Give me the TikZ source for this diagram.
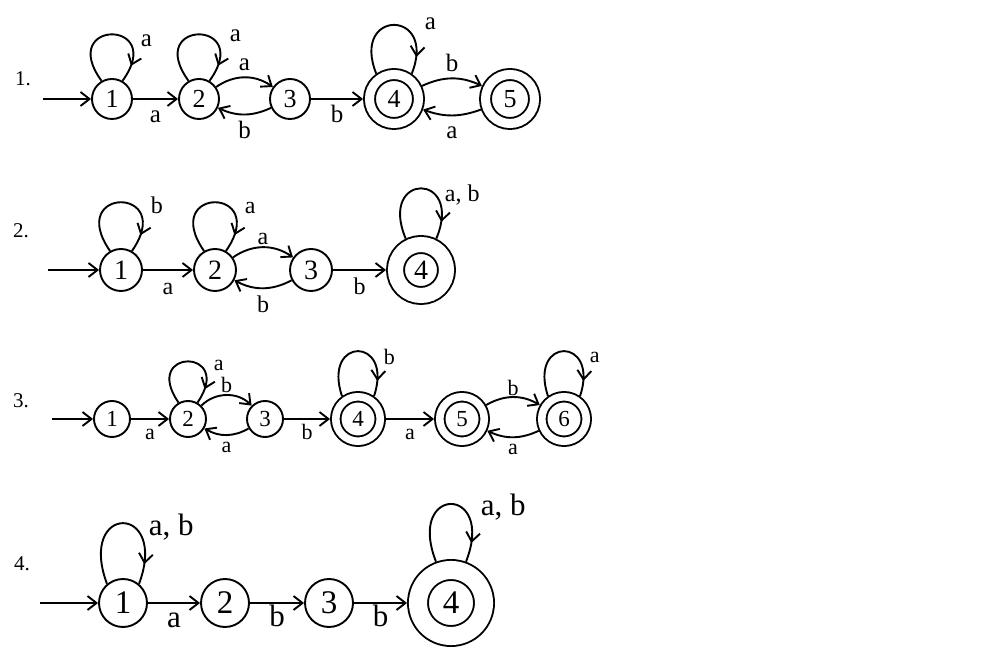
\documentclass[tikz,border=0pt]{standalone}
\usepackage{fontspec}
\setmainfont{Liberation Serif}
\usetikzlibrary{arrows.meta, decorations.markings}

\tikzset{
    qnode/.style={circle, draw, line width=1.9pt, inner sep=0pt},
    qfinal/.style={qnode, double},
    trans/.style={line width=1.9pt, -{Straight Barb[length=9pt,width=14pt]}},
    selfloop/.style={line width=1.9pt, postaction={decorate},
        decoration={markings, mark=at position 0.86 with {\arrow{Straight Barb[length=9pt,width=14pt]}}}},
    lab/.style={inner sep=1pt, text depth=0pt},
    rownum/.style={anchor=base west, inner sep=0pt, font=\fontsize{21}{21}\selectfont},
}

\begin{document}
\begin{tikzpicture}[x=1pt, y=1pt]
    \useasboundingbox (0,0) rectangle (1000,650);

    \begin{scope}[qnode/.append style={minimum size=40pt, font=\fontsize{26}{26}\selectfont},
                  qfinal/.append style={minimum size=49pt, double distance=9.1pt, outer sep=6.45pt},
                  lab/.append style={font=\fontsize{25}{25}\selectfont, text height=17.5pt}]
    \node[rownum] (n1) at (15,564) {1.};
    \coordinate (s1) at (43,551);
    \node[qnode] (A1) at (112,551) {1};
    \node[qnode] (A2) at (199,551) {2};
    \node[qnode] (A3) at (290,551) {3};
    \node[qfinal] (A4) at (394,551) {4};
    \node[qfinal] (A5) at (510,551) {5};
    \draw[trans] (s1) -- (A1);
    \draw[trans] (A1) -- node[lab, below=4.5pt] {a} (A2);
    \draw[trans] (A2) to[bend left=35] node[lab, above=5pt] {a} (A3);
    \draw[trans] (A3) to[bend left=25] node[lab, below=4.5pt] {b} (A2);
    \draw[trans] (A3) -- node[lab, below=4.5pt] {b} (A4);
    \draw[trans] (A4) to[bend left=25] node[lab, above=5pt] {b} (A5);
    \draw[trans] (A5) to[bend left=20] node[lab, below=3.5pt] {a} (A4);
    \draw[selfloop] (A1.120) .. controls +(-45,62) and +(45,62) .. node[lab, pos=.5, anchor=base west, xshift=27pt, yshift=-12pt] {a} (A1.60);
    \draw[selfloop] (A2.120) .. controls +(-45,62) and +(45,62) .. node[lab, pos=.5, anchor=base west, xshift=29pt, yshift=-7pt] {a} (A2.60);
    \draw[selfloop] (A4.125) .. controls +(-26,65) and +(26,65) .. node[lab, pos=.5, anchor=base west, xshift=29pt, yshift=-5pt] {a} (A4.55);
    \end{scope}

    \begin{scope}[qnode/.append style={minimum size=42pt, font=\fontsize{28}{28}\selectfont},
                  qfinal/.append style={minimum size=51pt, double distance=15.1pt, outer sep=9.45pt},
                  lab/.append style={font=\fontsize{24}{24}\selectfont, text height=16.8pt}]
    \node[rownum] (n2) at (13,412) {2.};
    \coordinate (s2) at (48,380);
    \node[qnode] (B1) at (121,380) {1};
    \node[qnode] (B2) at (215,380) {2};
    \node[qnode] (B3) at (311,380) {3};
    \node[qfinal] (B4) at (421,380) {4};
    \draw[trans] (s2) -- (B1);
    \draw[trans] (B1) -- node[lab, below=6pt] {a} (B2);
    \draw[trans] (B2) to[bend left=35] node[lab, above=1pt] {a} (B3);
    \draw[trans] (B3) to[bend left=28] node[lab, below=6pt] {b} (B2);
    \draw[trans] (B3) -- node[lab, below=6pt] {b} (B4);
    \draw[selfloop] (B1.120) .. controls +(-45,65) and +(45,65) .. node[lab, pos=.5, anchor=base west, xshift=28pt, yshift=-11pt] {b} (B1.60);
    \draw[selfloop] (B2.120) .. controls +(-45,65) and +(45,65) .. node[lab, pos=.5, anchor=base west, xshift=28pt, yshift=-11pt] {a} (B2.60);
    \draw[selfloop] (B4.116) .. controls +(-28,67) and +(28,67) .. node[lab, pos=.5, anchor=base west, xshift=22pt, yshift=-13.5pt] {a, b} (B4.64);
    \end{scope}

    \begin{scope}[qnode/.append style={minimum size=36pt, font=\fontsize{23}{23}\selectfont},
                  qfinal/.append style={minimum size=44.5pt, double distance=7.6pt, outer sep=5.7pt},
                  lab/.append style={font=\fontsize{22}{22}\selectfont, text height=15.4pt}]
    \node[rownum] (n3) at (13,242) {3.};
    \coordinate (s3) at (52,231);
    \node[qnode] (C1) at (112,231) {1};
    \node[qnode] (C2) at (188,231) {2};
    \node[qnode] (C3) at (265,231) {3};
    \node[qfinal] (C4) at (358,231) {4};
    \node[qfinal] (C5) at (462,231) {5};
    \node[qfinal] (C6) at (564,231) {6};
    \draw[trans] (s3) -- (C1);
    \draw[trans] (C1) -- node[lab, below=3.6pt] {a} (C2);
    \draw[trans] (C2) to[bend left=45] node[lab, above=0.5pt] {b} (C3);
    \draw[trans] (C3) to[bend left=30] node[lab, below=0pt] {a} (C2);
    \draw[trans] (C3) -- node[lab, below=3.6pt] {b} (C4);
    \draw[trans] (C4) -- node[lab, below=3.6pt] {a} (C5);
    \draw[trans] (C5) to[bend left=30] node[lab, above=0pt] {b} (C6);
    \draw[trans] (C6) to[bend left=25] node[lab, below=0pt] {a} (C5);
    \draw[selfloop] (C2.120) .. controls +(-38,55) and +(38,55) .. node[lab, pos=.5, anchor=base west, xshift=24pt, yshift=-9.5pt] {a} (C2.60);
    \draw[selfloop] (C4.125) .. controls +(-20,60) and +(20,60) .. node[lab, pos=.5, anchor=base west, xshift=24pt, yshift=-13pt] {b} (C4.55);
    \draw[selfloop] (C6.125) .. controls +(-20,60) and +(20,60) .. node[lab, pos=.5, anchor=base west, xshift=24pt, yshift=-11pt] {a} (C6.55);
    \end{scope}

    \begin{scope}[qnode/.append style={minimum size=48pt, font=\fontsize{33}{33}\selectfont},
                  qfinal/.append style={minimum size=66pt, double distance=18.1pt, outer sep=10.95pt},
                  lab/.append style={font=\fontsize{31}{31}\selectfont, text height=21.7pt}]
    \node[rownum] (n4) at (14,79) {4.};
    \coordinate (s4) at (40,47);
    \node[qnode] (D1) at (123,47) {1};
    \node[qnode] (D2) at (225,47) {2};
    \node[qnode] (D3) at (329,47) {3};
    \node[qfinal] (D4) at (451,47) {4};
    \draw[trans] (s4) -- (D1);
    \draw[trans] (D1) -- node[lab, below=1pt] {a} (D2);
    \draw[trans] (D2) -- node[lab, below=0pt] {b} (D3);
    \draw[trans] (D3) -- node[lab, below=0pt] {b} (D4);
    \draw[selfloop] (D1.130) .. controls +(-30,81) and +(30,81) .. node[lab, pos=.5, anchor=base west, xshift=24pt, yshift=-12pt] {a, b} (D1.50);
    \draw[selfloop] (D4.110) .. controls +(-30,77) and +(30,77) .. node[lab, pos=.5, anchor=base west, xshift=28pt, yshift=-12pt] {a, b} (D4.70);
    \end{scope}
\end{tikzpicture}
\end{document}
